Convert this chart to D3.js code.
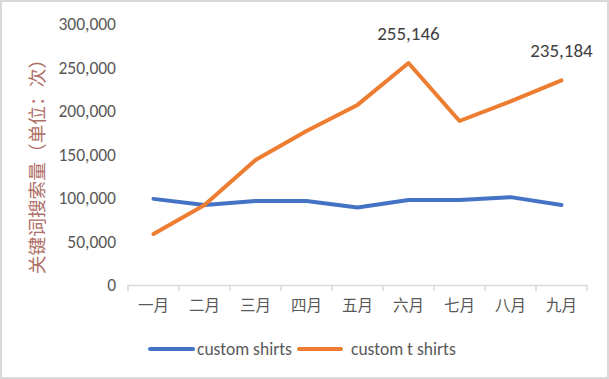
<!DOCTYPE html>
<html><head><meta charset="utf-8">
<script src="https://cdn.jsdelivr.net/npm/d3@7"></script>
<style>body{margin:0;background:#fff}svg{display:block}</style>
</head><body>
<script>
const categories = ["一月","二月","三月","四月","五月","六月","七月","八月","九月"];
const shirts = [99000, 92000, 96500, 96500, 89000, 97700, 97700, 101000, 92000];
const tShirts = [58600, 92000, 143700, 177000, 207000, 255146, 188500, 211000, 235184];
const yTicks = [0, 50000, 100000, 150000, 200000, 250000, 300000];
const seriesNames = ["custom shirts", "custom t shirts"];
const colors = ["#4472C4", "#ED7D31"];
const labelled = [5, 8];

const W = 609, H = 379;
const svg = d3.select("body").append("svg").attr("width", W).attr("height", H);
svg.append("rect").attr("x",1).attr("y",1).attr("width",W-2).attr("height",H-2)
  .attr("fill","#fff").attr("stroke","#d9d9d9").attr("stroke-width",2);

const x = d3.scaleBand().domain(categories).range([128, 587]);
const y = d3.scaleLinear().domain([0, 300000]).range([285, 24]);
const latin = "Calibri, 'Open Sans', sans-serif";

// y axis labels
svg.append("g").selectAll("text").data(yTicks).join("text")
  .attr("x", 116).attr("y", d => y(d)).attr("dy", "0.36em")
  .attr("text-anchor", "end").attr("font-family", latin)
  .attr("font-size", 17.5).attr("fill", "#595959")
  .text(d => d3.format(",")(d));

// x axis
const xa = svg.append("g").attr("transform", "translate(0,285)")
  .call(d3.axisBottom(x).tickSize(0).tickPadding(12));
xa.select(".domain").attr("stroke", "#d9d9d9").attr("stroke-width", 1.5);
xa.selectAll("text").attr("font-family", "'Noto Sans CJK SC', sans-serif")
  .attr("font-size", 15.5).attr("fill", "#595959").attr("dy", "0.9em");
const edges = categories.map(c => x(c)).concat([x.range()[1]]);
svg.append("g").selectAll("line").data(edges).join("line")
  .attr("x1", d => d).attr("x2", d => d).attr("y1", 285).attr("y2", 291)
  .attr("stroke", "#d9d9d9").attr("stroke-width", 1.5);

// y title
svg.append("text").attr("transform", "translate(37,162) rotate(-90)")
  .attr("text-anchor", "middle").attr("dy", "0.35em")
  .attr("font-family", "'Noto Sans CJK SC', sans-serif")
  .attr("font-size", 18.7).attr("fill", "#b07068")
  .text("关键词搜索量（单位：次）");

const line = d3.line().x((d, i) => x(categories[i]) + x.bandwidth() / 2).y(d => y(d));
[shirts, tShirts].forEach((s, k) => {
  svg.append("path").datum(s).attr("d", line).attr("fill", "none")
    .attr("stroke", colors[k]).attr("stroke-width", 4)
    .attr("stroke-linejoin", "round").attr("stroke-linecap", "round");
});

// data labels
svg.append("g").selectAll("text").data(labelled).join("text")
  .attr("x", i => x(categories[i]) + x.bandwidth() / 2)
  .attr("y", i => y(tShirts[i]) - 30).attr("dy", "0.35em")
  .attr("text-anchor", "middle").attr("font-family", latin)
  .attr("font-size", 19).attr("fill", "#404040")
  .text(i => d3.format(",")(tShirts[i]));

// legend
const leg = [{x1: 150, x2: 193, tx: 197}, {x1: 299, x2: 341, tx: 351}];
leg.forEach((l, k) => {
  svg.append("line").attr("x1", l.x1).attr("x2", l.x2).attr("y1", 349).attr("y2", 349)
    .attr("stroke", colors[k]).attr("stroke-width", 4).attr("stroke-linecap", "round");
  svg.append("text").attr("x", l.tx).attr("y", 349).attr("dy", "0.35em")
    .attr("font-family", latin).attr("font-size", 17.5)
    .attr("fill", "#595959").text(seriesNames[k]);
});
</script>
</body></html>
